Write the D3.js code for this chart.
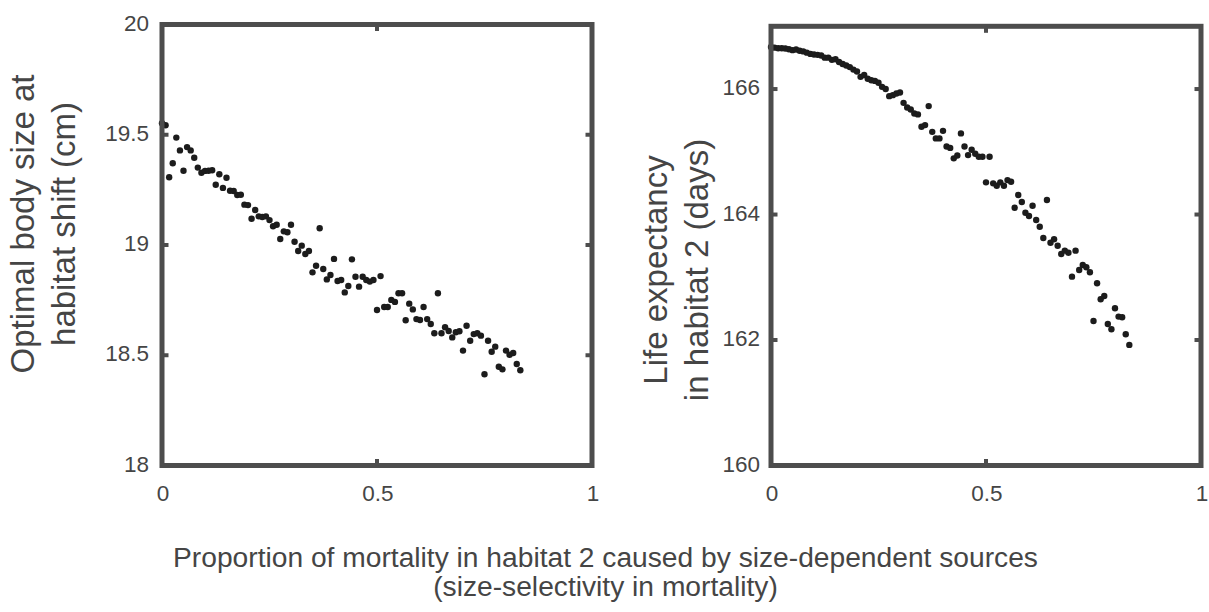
<!DOCTYPE html>
<html>
<head>
<meta charset="utf-8">
<script src="https://cdn.jsdelivr.net/npm/d3@7/dist/d3.min.js"></script>
<style>
  html, body { margin: 0; padding: 0; background: #fff; }
  svg { display: block; }
  text { font-family: "Liberation Sans", Arial, Helvetica, sans-serif; fill: #454545; }
</style>
</head>
<body>
<svg id="chart" width="1209" height="612"></svg>
<script>
// ---- data ----
const xValues = [0.0000,0.0083,0.0167,0.0250,0.0333,0.0417,0.0500,0.0583,0.0667,0.0750,
  0.0833,0.0917,0.1000,0.1083,0.1167,0.1250,0.1333,0.1417,0.1500,0.1583,
  0.1667,0.1750,0.1833,0.1917,0.2000,0.2083,0.2167,0.2250,0.2333,0.2417,
  0.2500,0.2583,0.2667,0.2750,0.2833,0.2917,0.3000,0.3083,0.3167,0.3250,
  0.3333,0.3417,0.3500,0.3583,0.3667,0.3750,0.3833,0.3917,0.4000,0.4083,
  0.4167,0.4250,0.4333,0.4417,0.4500,0.4583,0.4667,0.4750,0.4833,0.4917,
  0.5000,0.5083,0.5167,0.5250,0.5333,0.5417,0.5500,0.5583,0.5667,0.5750,
  0.5833,0.5917,0.6000,0.6083,0.6167,0.6250,0.6333,0.6417,0.6500,0.6583,
  0.6667,0.6750,0.6833,0.6917,0.7000,0.7083,0.7167,0.7250,0.7333,0.7417,
  0.7500,0.7583,0.7667,0.7750,0.7833,0.7917,0.8000,0.8083,0.8167,0.8250,
  0.8333];

const bodySize = [19.552,19.543,19.307,19.371,19.487,19.429,19.337,19.444,19.429,19.396,
  19.351,19.328,19.336,19.337,19.339,19.273,19.321,19.259,19.305,19.246,
  19.245,19.227,19.228,19.183,19.181,19.119,19.159,19.130,19.127,19.130,
  19.113,19.085,19.092,19.027,19.062,19.058,19.092,19.015,18.973,18.997,
  18.959,18.973,18.876,18.906,19.076,18.891,18.844,18.864,18.937,18.837,
  18.841,18.785,18.814,18.935,18.856,18.811,18.856,18.841,18.834,18.841,
  18.705,18.859,18.719,18.719,18.751,18.742,18.781,18.781,18.659,18.734,
  18.708,18.664,18.660,18.719,18.664,18.642,18.600,18.781,18.600,18.627,
  18.610,18.581,18.604,18.609,18.521,18.634,18.566,18.596,18.600,18.589,
  18.414,18.566,18.516,18.539,18.448,18.436,18.521,18.502,18.510,18.460,
  18.432];

const lifeExpectancy = [166.672,166.660,166.650,166.650,166.645,166.635,166.620,166.630,166.610,166.600,
  166.580,166.560,166.550,166.545,166.535,166.500,166.500,166.465,166.475,166.430,
  166.400,166.375,166.350,166.310,166.280,166.194,166.225,166.165,166.140,166.130,
  166.100,166.035,166.000,165.887,165.903,165.930,165.945,165.780,165.707,165.675,
  165.611,165.596,165.398,165.425,165.728,165.318,165.213,165.213,165.334,165.085,
  165.062,164.895,164.940,165.293,165.085,164.947,165.032,164.968,164.920,164.920,
  164.513,164.920,164.497,164.459,164.513,164.459,164.549,164.522,164.108,164.311,
  164.199,164.029,163.976,164.140,163.912,163.806,163.626,164.231,163.551,163.605,
  163.503,163.371,163.424,163.392,163.010,163.424,163.116,163.196,163.159,163.080,
  162.304,162.904,162.650,162.702,162.256,162.172,162.506,162.373,162.363,162.092,
  161.922];

const xTicks = [0, 0.5, 1];
const xTickLabels = ["0", "0.5", "1"];
const leftYTicks = [18, 18.5, 19, 19.5, 20];
const leftYTickLabels = ["18", "18.5", "19", "19.5", "20"];
const rightYTicks = [160, 162, 164, 166];
const rightYTickLabels = ["160", "162", "164", "166"];
const leftYLabel = ["Optimal body size at", "habitat shift (cm)"];
const rightYLabel = ["Life expectancy", "in habitat 2 (days)"];
const xTitle = ["Proportion of mortality in habitat 2 caused by size-dependent sources",
                "(size-selectivity in mortality)"];

// ---- drawing ----
const svg = d3.select("#chart");
const frameColor = "#4d4d4d";
const dotColor = "#1c1c1c";

function panel(cfg) {
  const x = d3.scaleLinear().domain([0, 1]).range([cfg.x0, cfg.x1]);
  const y = d3.scaleLinear().domain(cfg.yDomain).range([cfg.yBottom, cfg.yTop]);
  const g = svg.append("g");

  // dots
  g.append("g").selectAll("circle")
    .data(cfg.values)
    .join("circle")
    .attr("cx", (d, i) => x(xValues[i]))
    .attr("cy", d => y(d))
    .attr("r", 3.2)
    .attr("fill", dotColor);

  // frame
  g.append("rect")
    .attr("x", cfg.x0).attr("y", cfg.yTop)
    .attr("width", cfg.x1 - cfg.x0).attr("height", cfg.yBottom - cfg.yTop)
    .attr("fill", "none").attr("stroke", frameColor).attr("stroke-width", 5);

  const tl = 6.5;
  xTicks.forEach(t => {
    g.append("line").attr("x1", x(t)).attr("x2", x(t))
      .attr("y1", cfg.yBottom).attr("y2", cfg.yBottom - tl)
      .attr("stroke", frameColor).attr("stroke-width", 4);
    g.append("line").attr("x1", x(t)).attr("x2", x(t))
      .attr("y1", cfg.yTop).attr("y2", cfg.yTop + tl)
      .attr("stroke", frameColor).attr("stroke-width", 4);
  });
  cfg.yTicks.forEach(t => {
    g.append("line").attr("x1", cfg.x0).attr("x2", cfg.x0 + tl)
      .attr("y1", y(t)).attr("y2", y(t))
      .attr("stroke", frameColor).attr("stroke-width", 4);
    g.append("line").attr("x1", cfg.x1).attr("x2", cfg.x1 - tl)
      .attr("y1", y(t)).attr("y2", y(t))
      .attr("stroke", frameColor).attr("stroke-width", 4);
  });

  xTicks.forEach((t, i) => {
    g.append("text").attr("x", x(t) + 1).attr("y", 501)
      .attr("text-anchor", "middle").attr("font-size", 22.5)
      .text(xTickLabels[i]);
  });
  cfg.yTicks.forEach((t, i) => {
    g.append("text").attr("x", cfg.x0 - cfg.labelGap).attr("y", y(t) + 6)
      .attr("text-anchor", "end").attr("font-size", 22.5)
      .text(cfg.yTickLabels[i]);
  });

  cfg.yLabel.forEach((line, i) => {
    g.append("text")
      .attr("transform", `translate(${cfg.labelX[i]},${cfg.labelCY}) rotate(-90)`)
      .attr("text-anchor", "middle").attr("font-size", 33)
      .text(line);
  });
}

panel({
  x0: 162, x1: 592, yTop: 24.5, yBottom: 465.5,
  yDomain: [18, 20], values: bodySize,
  yTicks: leftYTicks, yTickLabels: leftYTickLabels,
  labelGap: 13, yLabel: leftYLabel, labelX: [34, 75], labelCY: 224
});

panel({
  x0: 771, x1: 1201, yTop: 26.3, yBottom: 465.5,
  yDomain: [160, 167], values: lifeExpectancy,
  yTicks: rightYTicks, yTickLabels: rightYTickLabels,
  labelGap: 11, yLabel: rightYLabel, labelX: [667, 708], labelCY: 270
});

xTitle.forEach((line, i) => {
  svg.append("text")
    .attr("x", 605.5).attr("y", 567 + i * 29)
    .attr("text-anchor", "middle").attr("font-size", 28.2)
    .text(line);
});
</script>
</body>
</html>
